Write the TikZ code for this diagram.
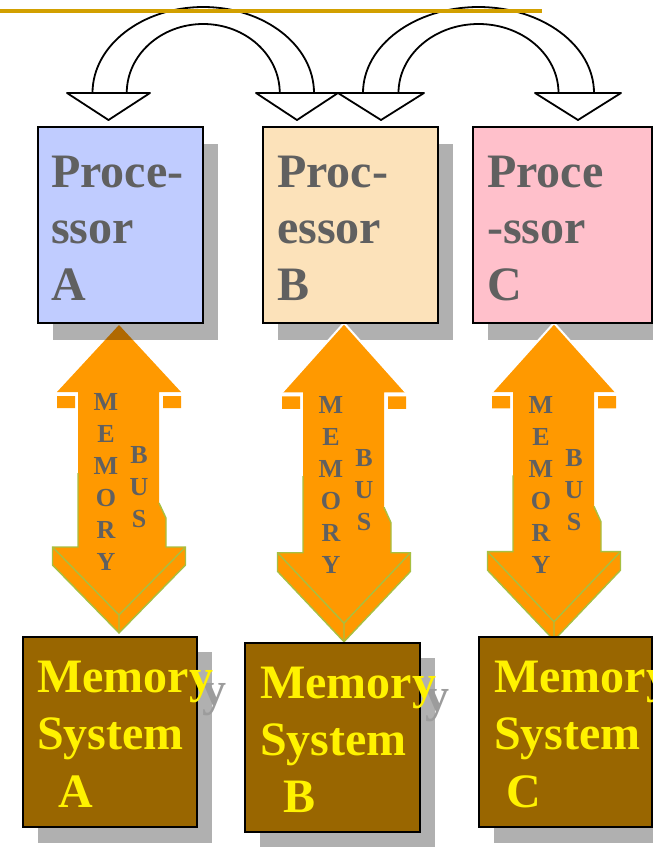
\documentclass[tikz,border=0pt]{standalone}
\usepackage{fontspec}
\setmainfont{Liberation Serif}
\definecolor{goldline}{HTML}{D2A000}
\definecolor{procA}{HTML}{C0CCFF}
\definecolor{procB}{HTML}{FCE2BA}
\definecolor{procC}{HTML}{FFC0CB}
\definecolor{dropgray}{HTML}{B0B0B0}
\definecolor{droptext}{HTML}{9C9C9C}
\definecolor{memfill}{HTML}{996600}
\definecolor{busorange}{HTML}{FF9900}
\definecolor{busgreen}{HTML}{A8BF40}
\definecolor{txtgray}{HTML}{606060}

% double-ended memory bus arrow
% #1 centre x, #2 tip y, #3 vertical stretch, #4 first letter baseline,
% #5 name prefix, #6 extra style for the white edge of the upper head
\newcommand\busarrow[6]{%
  \begin{scope}[shift={(#1,#2)}, yscale=#3]
    \fill[busorange] (0,0) -- (62,67) -- (40,67) -- (40,178) -- (47,193)
      -- (47,222) -- (66.5,222) -- (66.5,240) -- (0,308) -- (-66.5,240)
      -- (-66.5,222) -- (-41,222) -- (-41,67) -- (-62,67) -- cycle;
    \fill[busorange] (-62,71) rectangle (-44,83) (44,71) rectangle (62,83);
    \draw[busgreen, line width=1.4pt, line join=miter]
      (-41,148) -- (-41,222) -- (-66.5,222) -- (-66.5,240) -- (0,308)
      -- (66.5,240) -- (66.5,222) -- (47,222) -- (47,193) -- (40,178);
    \draw[busgreen, line width=1.4pt]
      (-66.5,222) -- (0,290) -- (66.5,222) (0,290) -- (0,308);
    \draw[white, line width=2pt, #6] (-62,67) -- (0,0) -- (62,67);
  \end{scope}
  \foreach \l [count=\k from 0] in {M,E,M,O,R,Y}
    \node[busletter] (#5m\k) at ({#1-13},{#4+32*\k}) {\l};
  \foreach \l [count=\k from 0] in {B,U,S}
    \node[busletter] (#5b\k) at ({#1+20},{#4+53+32*\k}) {\l};
}

\begin{document}
\begin{tikzpicture}[x=1pt, y=-1pt,
  hop/.style={draw=black, fill=white, line width=1.8pt, line join=round},
  boxframe/.style={draw=black, line width=2pt},
  bigtext/.style={font=\fontsize{48}{57}\selectfont\bfseries, inner sep=0pt, anchor=base west},
  busletter/.style={font=\fontsize{26}{30}\selectfont\bfseries, text=txtgray, inner sep=0pt, anchor=base},
]
\useasboundingbox (0,0) rectangle (653,847);

% hand-over arrows between neighbouring processors
\draw[hop] (92.5,93) arc[start angle=180, end angle=0, x radius=110.75pt, y radius=86pt]
  -- (279.75,93) arc[start angle=0, end angle=180, x radius=76.5pt, y radius=69pt] -- cycle;
\draw[hop] (363,93) arc[start angle=180, end angle=0, x radius=115.5pt, y radius=86pt]
  -- (558.5,93) arc[start angle=0, end angle=180, x radius=80pt, y radius=69pt] -- cycle;
\draw[hop] (67,93) -- (150,93) -- (108.5,120) -- cycle;
\draw[hop] (256,93) -- (338,93) -- (297,120) -- cycle;
\draw[hop] (338,93) -- (424,93) -- (381,120) -- cycle;
\draw[hop] (535,93) -- (621,93) -- (578,120) -- cycle;

% drop shadows
\fill[dropgray] (277.5,144) rectangle (452.5,340);
\fill[dropgray] (488,144) rectangle (667,340);
\fill[dropgray] (38,652) rectangle (212,843);
\fill[dropgray] (260,658) rectangle (434.5,848);
\fill[dropgray] (494,652) rectangle (667,843);

% shadow of the memory labels
\begin{scope}[shift={(13,13)}]
  \node[bigtext, text=droptext] (sA1) at (37,692) {Memory};
  \node[bigtext, text=droptext] (sB1) at (260,698) {Memory};
  \node[bigtext, text=droptext] (sC1) at (494,692) {Memory};
\end{scope}

% memory buses
\busarrow{119}{325}{1}{410}{a}{draw=none}
\busarrow{344}{323}{1.035}{413}{b}{}
\busarrow{554}{323}{1.03}{413}{c}{}

% shadow of processor A lies over the bus head
\fill[black, opacity=0.31] (52.5,144) rectangle (218,340);

% processors
\node[boxframe, fill=procA, minimum width=165.5pt, minimum height=196pt, inner sep=0pt] (pA) at (120.25,225) {};
\node[boxframe, fill=procB, minimum width=175pt, minimum height=196pt, inner sep=0pt] (pB) at (350,225) {};
\node[boxframe, fill=procC, minimum width=179pt, minimum height=196pt, inner sep=0pt] (pC) at (562.5,225) {};

\node[bigtext, text=txtgray] (pA1) at (51,187) {Proce-};
\node[bigtext, text=txtgray] (pA2) at (51,243) {ssor};
\node[bigtext, text=txtgray] (pA3) at (51,300) {A};
\node[bigtext, text=txtgray] (pB1) at (277,187) {Proc-};
\node[bigtext, text=txtgray] (pB2) at (277,243) {essor};
\node[bigtext, text=txtgray] (pB3) at (277,300) {B};
\node[bigtext, text=txtgray] (pC1) at (487,187) {Proce};
\node[bigtext, text=txtgray] (pC2) at (487,243) {-ssor};
\node[bigtext, text=txtgray] (pC3) at (487,300) {C};

% memory systems
\node[boxframe, fill=memfill, minimum width=174pt, minimum height=190pt, inner sep=0pt] (mA) at (110,732) {};
\node[boxframe, fill=memfill, minimum width=174.5pt, minimum height=189pt, inner sep=0pt] (mB) at (332.25,737.5) {};
\node[boxframe, fill=memfill, minimum width=173pt, minimum height=190pt, inner sep=0pt] (mC) at (565.5,732) {};

\node[bigtext, text=yellow] (mA1) at (37,692) {Memory};
\node[bigtext, text=yellow] (mA2) at (37,749) {System};
\node[bigtext, text=yellow] (mA3) at (58,807) {A};
\node[bigtext, text=yellow] (mB1) at (260,698) {Memory};
\node[bigtext, text=yellow] (mB2) at (260,755) {System};
\node[bigtext, text=yellow] (mB3) at (283,812) {B};
\node[bigtext, text=yellow] (mC1) at (494,692) {Memory};
\node[bigtext, text=yellow] (mC2) at (494,749) {System};
\node[bigtext, text=yellow] (mC3) at (506,807) {C};

% rule across the top
\draw[goldline, line width=3.5pt] (0,11) -- (542,11);
\end{tikzpicture}
\end{document}
